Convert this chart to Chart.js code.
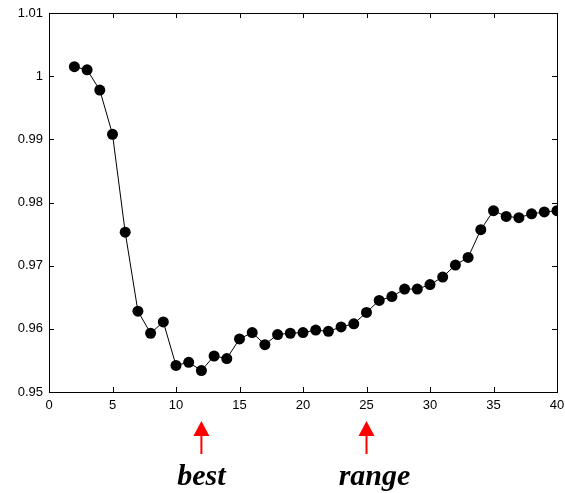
<!DOCTYPE html>
<html>
<head>
<meta charset="utf-8">
<script src="https://cdn.jsdelivr.net/npm/chart.js@4"></script>
<style>
  html, body { margin: 0; padding: 0; background: #fff; }
  #wrap { width: 565px; height: 493px; }
</style>
</head>
<body>
<div id="wrap"><canvas id="chart" width="565" height="493"></canvas></div>
<script>
// data
const xValues = [2, 3, 4, 5, 6, 7, 8, 9, 10, 11, 12, 13, 14, 15, 16, 17, 18, 19, 20, 21,
                 22, 23, 24, 25, 26, 27, 28, 29, 30, 31, 32, 33, 34, 35, 36, 37, 38, 39, 40];
const yValues = [1.0015, 1.0010, 0.9978, 0.9908, 0.9753, 0.9628, 0.9593, 0.9611, 0.9542, 0.9547,
                 0.9534, 0.9557, 0.9553, 0.9584, 0.9594, 0.9575, 0.9591, 0.9593, 0.9594, 0.9598,
                 0.9596, 0.9603, 0.9608, 0.9626, 0.9645, 0.9651, 0.9663, 0.9663, 0.9670, 0.9682,
                 0.9701, 0.9713, 0.9757, 0.9787, 0.9778, 0.9776, 0.9782, 0.9785, 0.9787];
const xTicks = [0, 5, 10, 15, 20, 25, 30, 35, 40];
const yTicks = [0.95, 0.96, 0.97, 0.98, 0.99, 1.00, 1.01];
const markerXs = [12, 25];
const markerLabels = ['best', 'range'];

const points = xValues.map((x, i) => ({ x: x, y: yValues[i] }));

// box frame with inward ticks, plus the red arrows and labels under the axis
const framePlugin = {
    id: 'frame',
    afterDraw(chart) {
        const ctx = chart.ctx;
        const { left, right, top, bottom } = chart.chartArea;
        const xs = chart.scales.x;
        const ys = chart.scales.y;
        ctx.save();
        ctx.strokeStyle = '#000';
        ctx.lineWidth = 1;
        ctx.strokeRect(left + 0.5, top + 0.5, right - left, bottom - top);
        ctx.beginPath();
        xTicks.forEach(t => {
            const px = Math.round(xs.getPixelForValue(t)) + 0.5;
            ctx.moveTo(px, bottom); ctx.lineTo(px, bottom - 5);
            ctx.moveTo(px, top); ctx.lineTo(px, top + 5);
        });
        yTicks.forEach(t => {
            const py = Math.round(ys.getPixelForValue(t)) + 0.5;
            ctx.moveTo(left, py); ctx.lineTo(left + 5, py);
            ctx.moveTo(right, py); ctx.lineTo(right - 5, py);
        });
        ctx.stroke();

        markerXs.forEach((mx, i) => {
            const px = xs.getPixelForValue(mx);
            ctx.strokeStyle = '#ff0000';
            ctx.fillStyle = '#ff0000';
            ctx.lineWidth = 2;
            ctx.beginPath();
            ctx.moveTo(px, 433);
            ctx.lineTo(px, 454);
            ctx.stroke();
            ctx.beginPath();
            ctx.moveTo(px, 421);
            ctx.lineTo(px - 8, 436);
            ctx.lineTo(px + 8, 436);
            ctx.closePath();
            ctx.fill();

            ctx.fillStyle = '#000';
            ctx.font = 'italic bold 30px "Liberation Serif", "Times New Roman", serif';
            ctx.textAlign = 'center';
            ctx.textBaseline = 'alphabetic';
            ctx.fillText(markerLabels[i], px + (i === 0 ? 0 : 8), 485);
        });
        ctx.restore();
    }
};

new Chart(document.getElementById('chart'), {
    type: 'scatter',
    data: {
        datasets: [{
            data: points,
            showLine: true,
            borderColor: '#000',
            borderWidth: 1,
            backgroundColor: '#000',
            pointRadius: 5.5,
            pointBorderWidth: 0,
            pointBackgroundColor: '#000',
            tension: 0
        }]
    },
    options: {
        responsive: false,
        animation: false,
        devicePixelRatio: 1,
        layout: { padding: { top: 13, right: 8, left: 0, bottom: 0 } },
        plugins: {
            legend: { display: false },
            tooltip: { enabled: false }
        },
        scales: {
            x: {
                type: 'linear',
                min: 0,
                max: 40,
                afterBuildTicks: (scale) => { scale.ticks = xTicks.map(v => ({ value: v })); },
                afterFit: (scale) => {
                    scale.height = 101;
                    scale.paddingLeft = 0;
                    scale.paddingRight = 0;
                },
                grid: { display: false, drawTicks: false },
                border: { display: false },
                ticks: {
                    color: '#000',
                    padding: 6,
                    maxRotation: 0,
                    font: { family: '"Liberation Sans", Arial, sans-serif', size: 13 },
                    callback: (v) => String(v)
                }
            },
            y: {
                type: 'linear',
                min: 0.95,
                max: 1.01,
                afterBuildTicks: (scale) => { scale.ticks = yTicks.map(v => ({ value: v })); },
                afterFit: (scale) => {
                    scale.width = 49;
                    scale.paddingTop = 0;
                    scale.paddingBottom = 0;
                },
                grid: { display: false, drawTicks: false },
                border: { display: false },
                ticks: {
                    color: '#000',
                    padding: 6,
                    font: { family: '"Liberation Sans", Arial, sans-serif', size: 13 },
                    callback: (v) => String(+Number(v).toFixed(2))
                }
            }
        }
    },
    plugins: [framePlugin]
});
</script>
</body>
</html>
